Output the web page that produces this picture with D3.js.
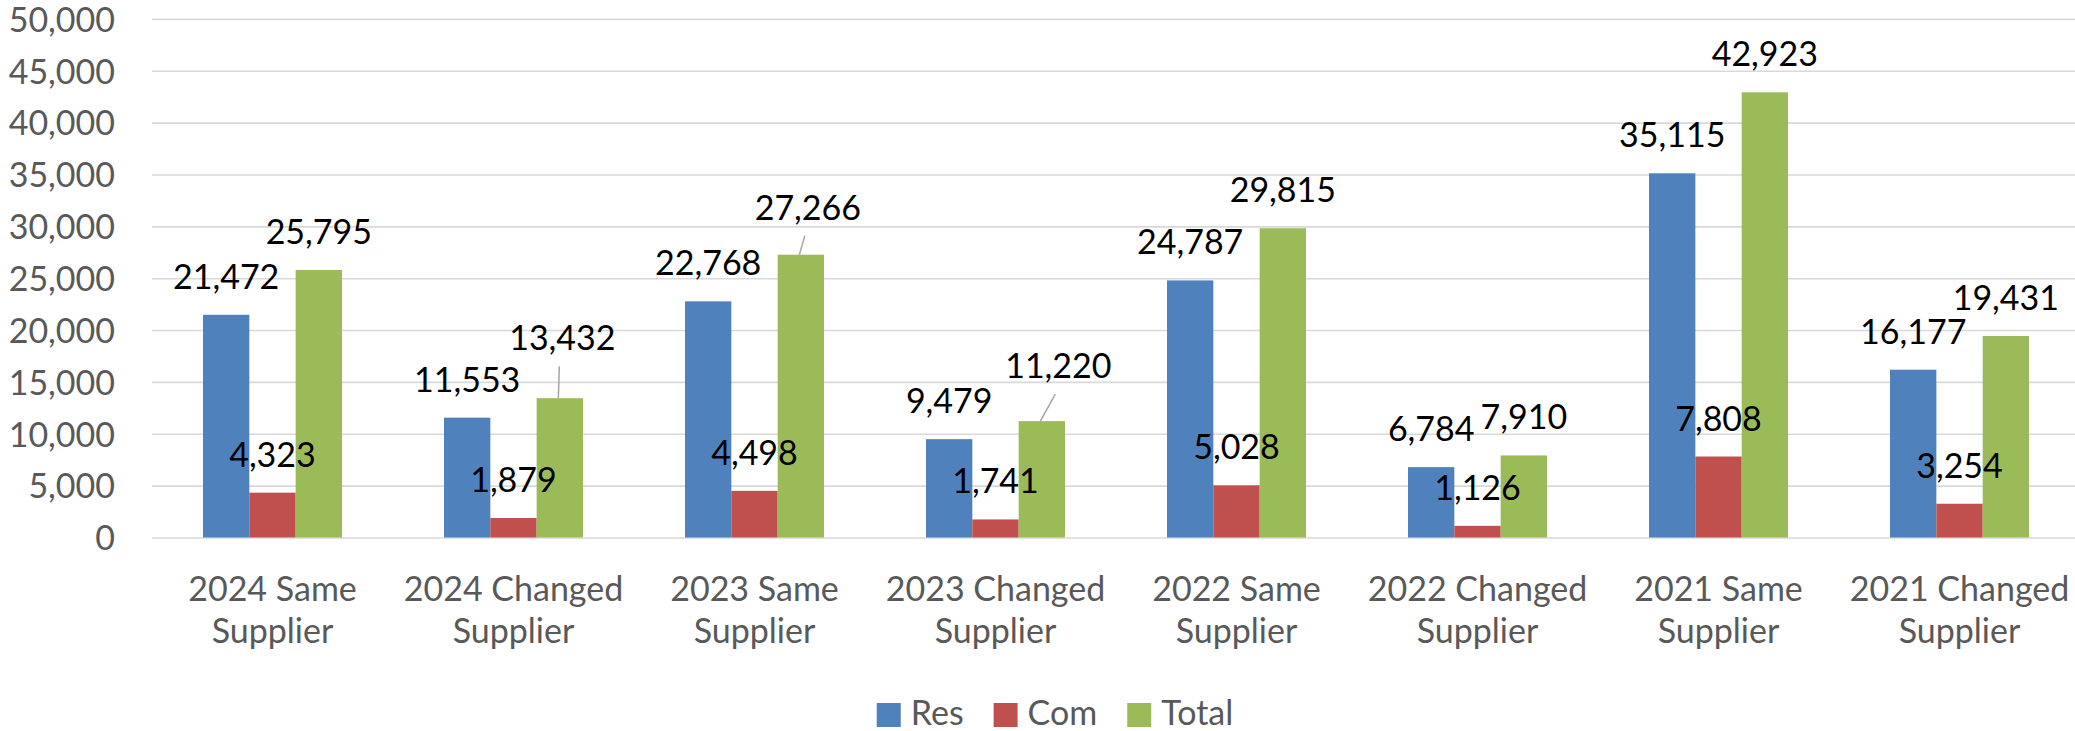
<!DOCTYPE html>
<html lang="en">
<head>
    <meta charset="UTF-8">
    <title>Same vs Changed Supplier</title>
    <script src="https://d3js.org/d3.v7.min.js"></script>
    <style>
        body { margin: 0; background: white; }
        svg { display: block; }
        text { font-family: Lato, "Open Sans", sans-serif; }
        .tick text, .legend text { fill: #595959; }
        .label { fill: black; }
    </style>
</head>
<body>
<script>
    const width = 2075;
    const height = 731;

    const categories = ["2024 Same Supplier", "2024 Changed Supplier", "2023 Same Supplier", "2023 Changed Supplier",
        "2022 Same Supplier", "2022 Changed Supplier", "2021 Same Supplier", "2021 Changed Supplier"];
    const series = ["Res", "Com", "Total"];
    const res = [21472, 11553, 22768, 9479, 24787, 6784, 35115, 16177];
    const com = [4323, 1879, 4498, 1741, 5028, 1126, 7808, 3254];
    const total = [25795, 13432, 27266, 11220, 29815, 7910, 42923, 19431];
    const yTicks = [0, 5000, 10000, 15000, 20000, 25000, 30000, 35000, 40000, 45000, 50000];

    const colors = {Res: "#4F81BD", Com: "#C0504D", Total: "#9BBB59"};
    // labels Excel moved off the bar (dx, dy) and gave a leader line
    const labelNudge = {
        "2024 Changed Supplier|Total": [2.5, -22],
        "2023 Same Supplier|Total": [7, -9],
        "2023 Changed Supplier|Total": [16.5, -17]
    };

    const values = {Res: res, Com: com, Total: total};
    const rows = categories.map((c, i) => ({
        cat: c,
        bars: series.map(s => ({cat: c, key: s, value: values[s][i]}))
    }));

    const svg = d3.select("body").append("svg")
            .attr("width", width).attr("height", height);

    const x0 = d3.scaleBand().domain(categories)
            .range([152, 2080]).paddingInner(0.4233).paddingOuter(0.2116);
    const x1 = d3.scaleBand().domain(series).range([0, x0.bandwidth()]);
    const y = d3.scaleLinear().domain([0, 50000]).range([537.5, 18.9]);

    // gridlines
    svg.append("g")
            .attr("transform", "translate(152,0)")
            .call(d3.axisLeft(y).tickValues(yTicks).tickSize(-1928).tickFormat(""))
            .call(g => g.select(".domain").remove())
            .call(g => g.selectAll("line").attr("stroke", "#D9D9D9").attr("stroke-width", 1.6));

    // y labels
    svg.append("g")
            .attr("transform", "translate(115,0)")
            .call(d3.axisLeft(y).tickValues(yTicks).tickSize(0).tickPadding(0).tickFormat(d3.format(",")))
            .call(g => g.select(".domain").remove())
            .call(g => g.selectAll("text").style("font-size", "34px").attr("dy", "0.36em"));

    // x labels, two lines
    const xAxis = svg.append("g")
            .attr("transform", "translate(0,537.5)")
            .call(d3.axisBottom(x0).tickSize(0).tickFormat(""))
            .call(g => g.select(".domain").remove());
    xAxis.selectAll(".tick").each(function(d) {
        const t = d3.select(this).select("text").text(null)
                .attr("y", 0).attr("dy", null)
                .style("font-size", "34px");
        const parts = [d.replace(" Supplier", ""), "Supplier"];
        t.selectAll("tspan").data(parts).enter().append("tspan")
                .attr("x", 0)
                .attr("y", (p, i) => 63.5 + i * 42)
                .text(p => p);
    });

    const groups = svg.selectAll("g.cat")
            .data(rows)
            .enter().append("g")
            .attr("class", "cat")
            .attr("transform", d => `translate(${x0(d.cat)},0)`);

    groups.selectAll("rect")
            .data(d => d.bars)
            .enter().append("rect")
            .attr("x", d => x1(d.key))
            .attr("y", d => y(d.value))
            .attr("width", x1.bandwidth())
            .attr("height", d => y(0) - y(d.value))
            .style("fill", d => colors[d.key]);

    const fmt = d3.format(",");
    groups.each(function(row) {
        const g = d3.select(this);
        row.bars.forEach(b => {
            const nudge = labelNudge[b.cat + "|" + b.key] || [0, 0];
            const cx = x1(b.key) + x1.bandwidth() / 2;
            const lx = cx + nudge[0];
            const ly = y(b.value) - 26 + nudge[1];
            g.append("text").attr("class", "label")
                    .attr("x", lx).attr("y", ly)
                    .attr("text-anchor", "middle")
                    .style("font-size", "34px")
                    .text(fmt(b.value));
            if (labelNudge[b.cat + "|" + b.key]) {
                g.append("line")
                        .attr("x1", lx - 3).attr("y1", ly + 16)
                        .attr("x2", cx - 1.5).attr("y2", y(b.value))
                        .style("stroke", "#A6A6A6")
                        .style("stroke-width", 1.5);
            }
        });
    });

    // legend
    const legend = svg.append("g").attr("class", "legend");
    let lx = 0;
    series.forEach(s => {
        legend.append("rect")
                .attr("x", lx).attr("y", 703)
                .attr("width", 24).attr("height", 24)
                .style("fill", colors[s]);
        const t = legend.append("text")
                .attr("x", lx + 34).attr("y", 725)
                .style("font-size", "34px")
                .text(s);
        lx += 34 + t.node().getComputedTextLength() + 30;
    });
    const legendWidth = lx - 30;
    legend.attr("transform", `translate(${1055 - legendWidth / 2},0)`);
</script>
</body>
</html>
